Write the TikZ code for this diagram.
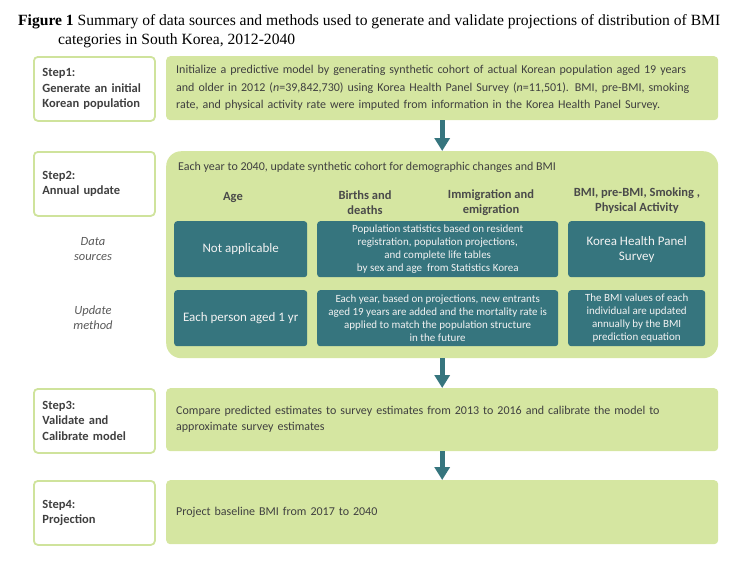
\documentclass[tikz,border=0pt]{standalone}
\usepackage{fontspec}
\setmainfont{Liberation Serif}
\newfontfamily\calib{Carlito}
\usetikzlibrary{arrows.meta}
\definecolor{lgreen}{HTML}{D5E6A1}
\definecolor{bgreen}{HTML}{CFE39C}
\definecolor{tealbox}{HTML}{36757E}
\definecolor{tgray}{HTML}{404040}
\definecolor{hgray}{HTML}{4A4A4A}
\definecolor{igray}{HTML}{595959}
\definecolor{wtxt}{HTML}{F2F2F2}
\begin{document}
\begin{tikzpicture}[x=1pt,y=-1pt,
  labelbox/.style={draw=bgreen, line width=1.8pt, fill=white, rounded corners=4pt,
    minimum width=121pt, minimum height=64pt, text width=104pt, align=left,
    inner xsep=8.5pt, inner ysep=0pt, anchor=north west,
    font=\calib\fontsize{12.5}{15.5}\selectfont\bfseries, text=tgray},
  contentbox/.style={fill=lgreen, rounded corners=4pt, minimum width=552pt,
    minimum height=64pt, text width=532pt, align=left, inner xsep=10pt,
    inner ysep=0pt, anchor=north west,
    font=\calib\fontsize{12}{17.5}\selectfont, text=tgray},
  tealnode/.style={fill=tealbox, rounded corners=3pt, inner sep=0pt,
    anchor=north west, align=center, text=wtxt,
    font=\calib\fontsize{11}{13}\selectfont},
  header/.style={align=center, inner sep=0pt, text=hgray,
    font=\calib\fontsize{12.5}{15}\selectfont\bfseries},
  sidelabel/.style={align=center, inner sep=0pt, text=igray,
    font=\calib\fontsize{12.5}{15}\selectfont\itshape},
  flowarrow/.style={draw=tealbox, line width=5pt,
    -{Triangle[width=15pt,length=13pt]}}
]
\useasboundingbox (0,0) rectangle (750,563);

% title
\node[anchor=north west, align=left, inner sep=0pt,
  font=\fontsize{15.6}{19}\selectfont] (title) at (18,14)
  {\textbf{Figure 1} Summary of data sources and methods used to generate and validate projections of distribution of BMI\\
   \hspace*{40pt}categories in South Korea, 2012-2040};

% step 1
\node[labelbox] (l1) at (33,56) {Step1:\\Generate an initial\\Korean population};
\node[contentbox] (c1) at (166,56)
  {Initialize a predictive model by generating synthetic cohort of actual Korean population aged 19 years\\
   and older in 2012 (\textit{n}=39,842,730) using Korea Health Panel Survey (\textit{n}=11,501). BMI, pre-BMI, smoking\\
   rate, and physical activity rate were imputed from information in the Korea Health Panel Survey.};

% step 2
\node[labelbox] (l2) at (33,151) {Step2:\\Annual update};
\node[fill=lgreen, rounded corners=15pt, minimum width=552pt, minimum height=207pt,
  inner sep=0pt, anchor=north west] (c2) at (166,151) {};
\node[anchor=west, inner sep=0pt, text=tgray, font=\calib\fontsize{12}{15}\selectfont]
  (c2t) at (178,167) {Each year to 2040, update synthetic cohort for demographic changes and BMI};

\node[header] (hage) at (233,198) {Age};
\node[header] (hbd) at (365,202.5) {Births and\\deaths};
\node[header] (hie) at (491,202.5) {Immigration and\\emigration};
\node[header] (hbmi) at (637,200.5) {BMI, pre-BMI, Smoking ,\\Physical Activity};

\node[sidelabel] (lds) at (93,249.5) {Data\\sources};
\node[sidelabel] (lum) at (93,317.5) {Update\\method};

\node[tealnode, minimum width=133pt, minimum height=56pt,
  font=\calib\fontsize{13}{15}\selectfont] (t11) at (174,221) {Not applicable};
\node[tealnode, minimum width=241pt, minimum height=56pt] (t12) at (317,221)
  {Population statistics based on resident\\registration, population projections,\\and complete life tables\\by sex and age~~from Statistics Korea};
\node[tealnode, minimum width=137pt, minimum height=56pt,
  font=\calib\fontsize{13}{15}\selectfont] (t13) at (568,221) {Korea Health Panel\\Survey};

\node[tealnode, minimum width=133pt, minimum height=56pt,
  font=\calib\fontsize{13}{15}\selectfont] (t21) at (174,290) {Each person aged 1 yr};
\node[tealnode, minimum width=241pt, minimum height=56pt] (t22) at (317,290)
  {Each year, based on projections, new entrants\\aged 19 years are added and the mortality rate is\\applied to match the population structure\\in the future};
\node[tealnode, minimum width=137pt, minimum height=56pt] (t23) at (568,290)
  {The BMI values of each\\individual are updated\\annually by the BMI\\prediction equation};

% step 3
\node[labelbox] (l3) at (33,388) {Step3:\\Validate and\\Calibrate model};
\node[contentbox, minimum height=63pt, font=\calib\fontsize{12}{16}\selectfont] (c3) at (166,388)
  {Compare predicted estimates to survey estimates from 2013 to 2016 and calibrate the model to\\approximate survey estimates};

% step 4
\node[labelbox] (l4) at (33,480) {Step4:\\Projection};
\node[contentbox, minimum height=64pt] (c4) at (166,480)
  {Project baseline BMI from 2017 to 2040};

% arrows
\draw[flowarrow] (c1.south) -- (c2.north);
\draw[flowarrow] (c2.south) -- (c3.north);
\draw[flowarrow] (c3.south) -- (c4.north);
\end{tikzpicture}
\end{document}
